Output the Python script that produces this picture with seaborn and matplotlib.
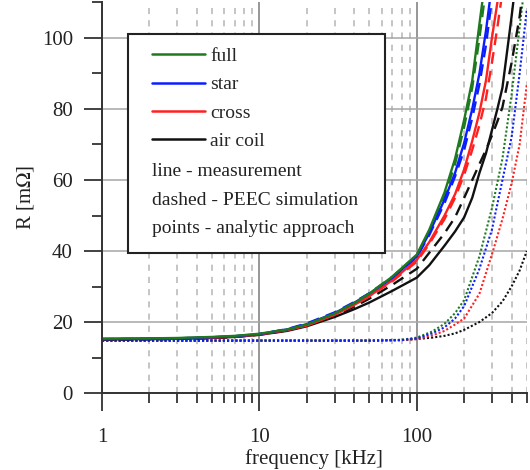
import numpy as np
import pandas as pd
import matplotlib
matplotlib.use('Agg')
import matplotlib.pyplot as plt
from matplotlib.ticker import FixedLocator, MultipleLocator, NullFormatter, FuncFormatter
from matplotlib.lines import Line2D
from matplotlib.patches import Rectangle
import seaborn as sns

# measured / simulated resistance R [mOhm] over frequency [kHz]
freq_full = [1, 2, 3, 5, 7, 10, 15, 20, 30, 40, 50, 70, 100, 120, 150, 175, 200, 225, 250, 275]
r_full_meas = [15.3, 15.4, 15.5, 15.8, 16.1, 16.7, 17.9, 19.3, 22.4, 25.3, 28.0, 32.8, 39.0, 46.0, 56.5, 66.0, 77.0, 88.0, 104.0, 118.0]
r_full_peec = [15.2, 15.3, 15.4, 15.7, 16.0, 16.6, 17.8, 19.3, 22.4, 25.4, 28.1, 32.8, 38.8, 45.5, 55.5, 64.5, 75.0, 86.0, 100.0, 114.0]

freq_star = [1, 2, 3, 5, 7, 10, 15, 20, 30, 40, 50, 70, 100, 120, 150, 175, 200, 225, 250, 275, 300]
r_star_meas = [15.2, 15.3, 15.4, 15.7, 16.0, 16.6, 17.9, 19.4, 22.5, 25.4, 28.0, 32.5, 38.5, 45.0, 54.5, 62.0, 70.5, 80.0, 90.0, 102.0, 115.0]
r_star_peec = [15.0, 15.1, 15.2, 15.5, 15.9, 16.6, 18.0, 19.6, 22.7, 25.6, 28.1, 32.4, 38.3, 44.5, 53.5, 61.0, 68.5, 77.5, 87.0, 98.0, 111.0]

freq_cross = [1, 2, 3, 5, 7, 10, 15, 20, 30, 40, 50, 70, 100, 120, 150, 175, 200, 225, 250, 275, 300, 325, 350]
r_cross_meas = [15.2, 15.3, 15.4, 15.6, 15.9, 16.5, 17.7, 19.0, 22.0, 24.8, 27.3, 31.8, 37.5, 42.5, 50.0, 56.0, 63.0, 71.0, 79.0, 88.0, 100.0, 110.0, 120.0]
r_cross_peec = [15.1, 15.2, 15.3, 15.5, 15.8, 16.4, 17.6, 19.0, 22.0, 24.8, 27.2, 31.5, 37.0, 42.0, 49.0, 55.0, 61.5, 68.5, 75.5, 83.0, 93.0, 103.0, 113.0]

freq_air = [1, 2, 3, 5, 7, 10, 15, 20, 30, 40, 50, 70, 100, 120, 150, 175, 200, 225, 250, 275, 300, 325, 350, 400, 450, 500]
r_air_meas = [15.1, 15.2, 15.3, 15.5, 15.8, 16.4, 17.5, 18.8, 21.4, 23.6, 25.5, 28.8, 32.5, 36.0, 41.5, 45.5, 49.5, 55.0, 62.0, 67.5, 74.0, 80.0, 86.0, 106.0, 125.0, 145.0]
r_air_peec = [15.1, 15.2, 15.3, 15.5, 15.8, 16.5, 17.7, 19.0, 21.8, 24.3, 26.6, 30.5, 35.0, 39.5, 45.0, 49.5, 55.0, 60.0, 64.5, 68.5, 72.5, 76.5, 80.5, 93.0, 106.0, 122.0]

# analytic approach
freq_an = [1, 10, 50, 80, 100, 125, 150, 175, 200, 250, 300, 350, 400, 450, 500]
r_full_an = [14.8, 14.8, 14.8, 15.0, 15.6, 17.3, 19.5, 22.5, 26.2, 38.5, 52.0, 66.0, 84.0, 103.0, 120.0]
r_star_an = [14.7, 14.7, 14.7, 14.9, 15.4, 16.8, 18.5, 21.0, 24.5, 35.0, 46.0, 60.0, 72.0, 90.0, 108.0]
r_cross_an = [14.8, 14.8, 14.8, 14.9, 15.2, 16.2, 17.5, 19.3, 21.0, 28.0, 39.0, 49.0, 59.0, 70.0, 87.0]
r_air_an = [14.8, 14.8, 14.8, 14.9, 15.2, 15.6, 16.1, 16.8, 17.8, 20.0, 22.5, 25.8, 30.0, 34.5, 40.0]

names = ['full', 'star', 'cross', 'air coil']
colors = ['#1f7a1f', '#0a1eff', '#ff2020', '#111111']

sns.set_style('white')
plt.rcParams['font.family'] = ['Liberation Serif', 'DejaVu Serif']
plt.rcParams['mathtext.fontset'] = 'stix'

fig = plt.figure(figsize=(5.3, 4.7), dpi=100)
ax = fig.add_axes([0.1925, 0.1638, 0.8015, 0.8309])

dot = (0, (1, 1))
dash = (0, (5, 3))

# analytic (dotted)
for f, r, c in [(freq_an, r_air_an, colors[3]), (freq_an, r_cross_an, colors[2]),
                (freq_an, r_full_an, colors[0]), (freq_an, r_star_an, colors[1])]:
    sns.lineplot(x=f, y=r, ax=ax, color=c, lw=1.5, linestyle=dot, estimator=None, sort=False)

# PEEC (dashed)
for f, r, c in [(freq_air, r_air_peec, colors[3]), (freq_cross, r_cross_peec, colors[2]),
                (freq_star, r_star_peec, colors[1]), (freq_full, r_full_peec, colors[0])]:
    sns.lineplot(x=f, y=r, ax=ax, color=c, lw=1.7, linestyle=dash, estimator=None, sort=False)

# measurement (solid)
for f, r, c in [(freq_air, r_air_meas, colors[3]), (freq_cross, r_cross_meas, colors[2]),
                (freq_star, r_star_meas, colors[1]), (freq_full, r_full_meas, colors[0])]:
    sns.lineplot(x=f, y=r, ax=ax, color=c, lw=1.7, estimator=None, sort=False)

ax.set_xscale('log')
ax.set_xlim(1, 500)
ax.set_ylim(0, 110)

ax.xaxis.set_major_locator(FixedLocator([1, 10, 100]))
ax.xaxis.set_major_formatter(FuncFormatter(lambda v, p: '%d' % v))
ax.xaxis.set_minor_locator(FixedLocator([m * d for d in [1, 10, 100] for m in range(2, 10) if m * d <= 500]))
ax.xaxis.set_minor_formatter(NullFormatter())
ax.yaxis.set_major_locator(MultipleLocator(20))
ax.yaxis.set_minor_locator(MultipleLocator(10))

ax.xaxis.grid(True, which='major', color='#7a7a7a', lw=1.1, ls='-')
ax.xaxis.grid(True, which='minor', color='#b5b5b5', lw=1.1, ls=(0, (4, 4)))
ax.yaxis.grid(True, which='major', color='#a5a5a5', lw=1.1, ls='-')
ax.set_axisbelow(True)

for s in ['top', 'right']:
    ax.spines[s].set_visible(False)
for s in ['left', 'bottom']:
    ax.spines[s].set_color('#333333')
    ax.spines[s].set_linewidth(1.4)

ax.tick_params(which='major', direction='out', length=13, width=1.3, color='#333333',
               labelsize=15, labelcolor='#222222', pad=8, left=True, bottom=True)
ax.tick_params(axis='x', which='major', pad=12)
ax.tick_params(which='minor', direction='out', length=7, width=1.3, color='#333333',
               left=True, bottom=True)

ax.set_xlabel('frequency [kHz]', fontsize=15, color='#222222', labelpad=2)
ax.set_ylabel('R [m$\\Omega$]', fontsize=15, color='#222222', labelpad=4)

# legend box
ax.add_patch(Rectangle((0.061, 0.359), 0.605, 0.5596, transform=ax.transAxes,
                       facecolor='white', edgecolor='#222222', lw=1.5, zorder=5))
handles = [Line2D([], [], color=c, lw=1.8) for c in colors]
leg = ax.legend(handles, names, loc='upper left', bbox_to_anchor=(0.118, 0.885),
                frameon=False, fontsize=14, handlelength=2.7, handletextpad=0.3,
                labelspacing=0.55, borderpad=0, borderaxespad=0)
leg.set_zorder(6)
for txt, yy in [('line - measurement', 0.5667), ('dashed - PEEC simulation', 0.494),
                ('points - analytic approach', 0.4218)]:
    ax.text(0.118, yy, txt, transform=ax.transAxes, fontsize=14, va='center', ha='left',
            color='#222222', zorder=7)

fig.savefig('out.png', dpi=100)
